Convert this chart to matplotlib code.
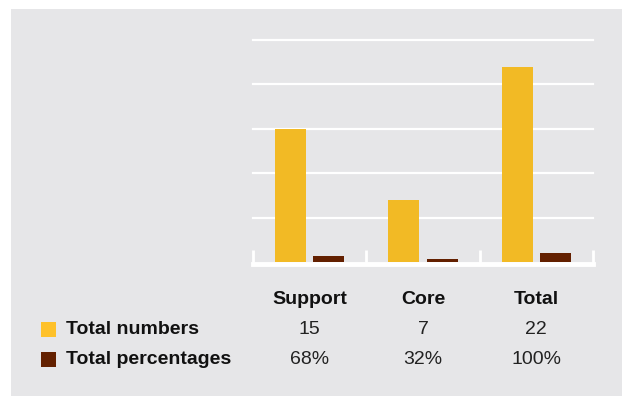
import numpy as np
import matplotlib.pyplot as plt
import matplotlib.transforms as mtransforms
from matplotlib.patches import Rectangle

plt.rcParams['font.family'] = ['Liberation Sans', 'DejaVu Sans']

categories = ['Support', 'Core', 'Total']
total_numbers = [15, 7, 22]
total_percentages = [0.68, 0.32, 1.0]
number_labels = ['15', '7', '22']
percentage_labels = ['68%', '32%', '100%']
series_names = ['Total numbers', 'Total percentages']

yellow = '#F2BA25'
brown = '#632000'
bg = '#E6E6E8'

W, H = 622, 396
fig = plt.figure(figsize=(W / 100, H / 100), dpi=100)
fig.patch.set_facecolor('white')
# grey panel
fig.patches.append(Rectangle((11 / W, 0), 1, (H - 9) / H, transform=fig.transFigure,
                             facecolor=bg, edgecolor='none', zorder=-10))

ax = fig.add_axes([253 / W, (H - 262) / H, 340 / W, 222 / H])
ax.set_facecolor('none')
x = np.arange(len(categories))
w = 0.274
off = 0.168
ax.bar(x - off, total_numbers, w, color=yellow, zorder=3)
ax.bar(x + off, total_percentages, w, color=brown, zorder=3)

ax.set_xlim(-0.5, 2.5)
ax.set_ylim(0, 25)
for yv in [5, 10, 15, 20, 25]:
    ax.axhline(yv, color='white', lw=1.6, zorder=1, clip_on=False)
ax.axhline(-0.2, color='white', lw=3.5, zorder=2, clip_on=False)
ax.vlines([-0.5, 0.5, 1.5, 2.5], -0.2, 1.4, color='white', lw=2, zorder=2, clip_on=False)

for s in ax.spines.values():
    s.set_visible(False)
ax.set_xticks([])
ax.set_yticks([])

# table below
trans = mtransforms.blended_transform_factory(ax.transData, fig.transFigure)
def fy(py):
    return 1 - py / H

for i, c in enumerate(categories):
    ax.text(i, fy(299), c, transform=trans, ha='center', va='center',
            fontsize=14, fontweight='bold', color='#111111')
    ax.text(i, fy(329), number_labels[i], transform=trans, ha='center', va='center',
            fontsize=14, color='#222222')
    ax.text(i, fy(359), percentage_labels[i], transform=trans, ha='center', va='center',
            fontsize=14, color='#222222')

for py, name, col in [(329, series_names[0], '#FEC12A'), (359, series_names[1], brown)]:
    fig.patches.append(Rectangle((41 / W, fy(py + 7.5)), 15 / W, 15 / H,
                                 transform=fig.transFigure, facecolor=col,
                                 edgecolor='none', zorder=1))
    fig.text(66 / W, fy(py), name, ha='left', va='center', fontsize=14,
             fontweight='bold', color='#111111')

fig.savefig('out.png', dpi=100, facecolor=fig.get_facecolor())
